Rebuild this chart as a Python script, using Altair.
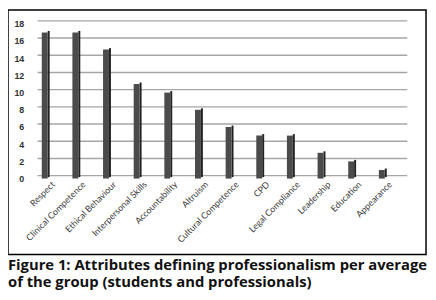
import altair as alt
import pandas as pd

categories = ["Respect", "Clinical Competence", "Ethical Behaviour", "Interpersonal Skills",
              "Accountability", "Altruism", "Cultural Competence", "CPD",
              "Legal Compliance", "Leadership", "Education", "Appearance"]
values = [17, 17, 15, 11, 10, 8, 6, 5, 5, 3, 2, 1]
y_ticks = [0, 2, 4, 6, 8, 10, 12, 14, 16, 18]
caption = ["Figure 1: Attributes defining professionalism per average",
           "of the group (students and professionals)"]

df = pd.DataFrame({"cat": categories, "val": values})
grid_df = pd.DataFrame({"t": y_ticks})

W, H = 424, 248

yscale = alt.Scale(domain=[0, 18], range=[171, 14], nice=False)
xscale = alt.Scale(domain=categories, range=[22.5, 395.5], paddingInner=0.76, paddingOuter=0.38)

yaxis = alt.Axis(title=None, orient="left", offset=-17, values=y_ticks, ticks=False,
                 domain=False, grid=False, labelPadding=1, labelFont="Liberation Sans",
                 labelFontWeight="bold", labelFontSize=9, labelColor="#333333")
xaxis = alt.Axis(title=None, orient="bottom", offset=-73, labelAngle=-45,
                 labelAlign="right", labelBaseline="middle", labelOffset=8,
                 labelPadding=0, ticks=False, domain=False, labelFont="Lato",
                 labelFontSize=9, labelColor="#404040", labelOverlap=False)

grid = alt.Chart(grid_df).mark_rule(color="#a6a6a6", strokeWidth=1.4, yOffset=-3).encode(
    y=alt.Y("t:Q", scale=yscale, axis=yaxis),
    x=alt.value(30), x2=alt.value(405),
)

front = alt.Chart(df).mark_bar(width=6, xOffset=-0.8, color="#4b4b4b").encode(
    x=alt.X("cat:N", scale=xscale, sort=categories, axis=xaxis),
    y=alt.Y("val:Q", scale=yscale, axis=yaxis),
)

side = alt.Chart(df).mark_bar(width=2, xOffset=3.2, yOffset=-1.5, y2Offset=-1.5, color="#222222").encode(
    x=alt.X("cat:N", scale=xscale, sort=categories, axis=xaxis),
    y=alt.Y("val:Q", scale=yscale, axis=yaxis),
)

chart = alt.layer(grid, side, front).properties(
    width=W, height=H, padding=0,
    title=alt.TitleParams(text=caption, orient="bottom", anchor="start", font="Open Sans",
                          fontWeight="bold", fontSize=15, lineHeight=17, offset=4, color="#111111"),
).configure_view(stroke="#000000", strokeWidth=1.5)

chart.save("out.html", embed_options={"renderer": "svg", "actions": False})
